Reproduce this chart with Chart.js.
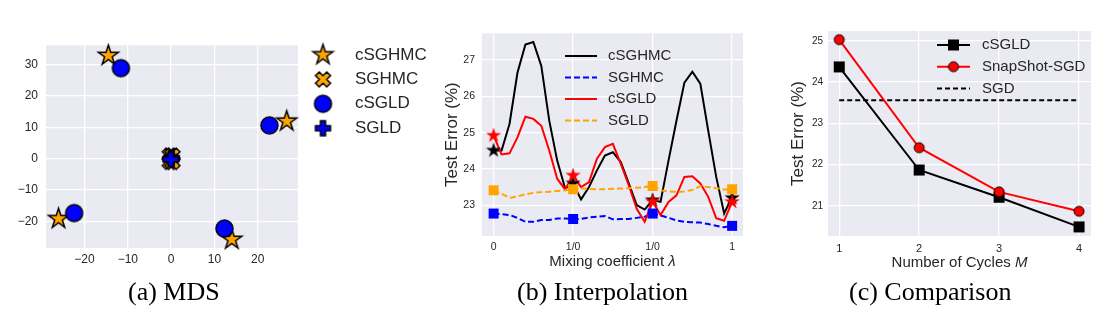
<!DOCTYPE html>
<html>
<head>
<meta charset="utf-8">
<script src="https://cdn.jsdelivr.net/npm/chart.js@4.4.1/dist/chart.umd.min.js"></script>
<style>
  body { margin: 0; background: #fff; width: 1111px; height: 333px; position: relative; overflow: hidden; }
  canvas { position: absolute; }
  .cap { position: absolute; font-family: 'Liberation Serif', 'Times New Roman', serif; font-size: 26px; line-height: 26px; color: #000; white-space: nowrap; }
</style>
</head>
<body>
<canvas id="mds" width="440" height="260" style="left:0;top:30px"></canvas>
<canvas id="interp" width="340" height="270" style="left:440px;top:20px"></canvas>
<canvas id="cycles" width="331" height="270" style="left:780px;top:20px"></canvas>
<div class="cap" style="left:128px;top:279px">(a) MDS</div>
<div class="cap" style="left:517px;top:279px">(b) Interpolation</div>
<div class="cap" style="left:849px;top:279px">(c) Comparison</div>

<script>
// (a) MDS embedding of the samples
const mdsCSGHMC = [[-14.5, 32.8], [26.7, 11.9], [-26.0, -19.1], [14.0, -25.7]];
const mdsSGHMC = [[-0.3, 1.0], [0.3, 1.0], [-0.3, -1.0], [0.3, -1.0]];
const mdsCSGLD = [[-11.6, 28.8], [22.7, 10.6], [-22.4, -17.3], [12.3, -22.2]];
const mdsSGLD = [[0, 0], [0.1, 0.2], [-0.1, -0.2]];
const mdsTicksX = [-20, -10, 0, 10, 20];
const mdsTicksY = [-20, -10, 0, 10, 20, 30];

// (b) interpolation between samples
const lambdaPos = [0, 0.1, 0.2, 0.3, 0.4, 0.5, 0.6, 0.7, 0.8, 0.9, 1, 1.1, 1.2, 1.3, 1.4, 1.5, 1.6, 1.7, 1.8, 1.9,
  2, 2.1, 2.2, 2.3, 2.4, 2.5, 2.6, 2.7, 2.8, 2.9, 3];
const interpCSGHMC = [24.51, 24.51, 25.24, 26.65, 27.43, 27.5, 26.84, 25.33, 24.23, 23.46, 23.6, 23.16, 23.5, 23.96,
  24.37, 24.46, 24.19, 23.6, 23.0, 22.88, 23.14, 23.09, 24.23, 25.33, 26.38, 26.68, 26.35, 25.05, 23.78, 22.77, 23.23];
const interpSGHMC = [22.77, 22.75, 22.73, 22.65, 22.54, 22.54, 22.59, 22.59, 22.63, 22.63, 22.62, 22.62, 22.66, 22.68,
  22.7, 22.61, 22.62, 22.62, 22.65, 22.68, 22.77, 22.72, 22.65, 22.58, 22.54, 22.53, 22.52, 22.48, 22.43, 22.39, 22.43];
const interpCSGLD = [24.92, 24.4, 24.43, 24.87, 25.44, 25.38, 25.19, 24.51, 23.73, 23.43, 23.82, 23.5, 23.64, 24.28,
  24.6, 24.69, 24.14, 23.55, 22.9, 22.54, 23.1, 22.73, 23.09, 23.27, 23.78, 23.8, 23.6, 23.23, 22.64, 22.57, 23.09];
const interpSGLD = [23.41, 23.32, 23.2, 23.24, 23.3, 23.34, 23.36, 23.37, 23.39, 23.41, 23.44, 23.46, 23.45, 23.44,
  23.44, 23.45, 23.46, 23.47, 23.48, 23.5, 23.53, 23.41, 23.38, 23.37, 23.38, 23.42, 23.52, 23.5, 23.47, 23.43, 23.44];
const samplePos = [0, 1, 2, 3];
const sampleCSGHMC = [24.51, 23.6, 23.14, 23.2];
const sampleSGHMC = [22.77, 22.62, 22.77, 22.43];
const sampleCSGLD = [24.92, 23.82, 23.1, 23.09];
const sampleSGLD = [23.41, 23.44, 23.53, 23.44];
const lambdaTicks = [0, 1, 2, 3];
const lambdaTickLabels = ['0', '1/0', '1/0', '1'];
const interpTicksY = [23, 24, 25, 26, 27];

// (c) number of cycles
const cycles = [1, 2, 3, 4];
const cyclesCSGLD = [24.37, 21.87, 21.21, 20.49];
const cyclesSnapshot = [25.03, 22.41, 21.34, 20.87];
const sgdError = 23.56;
const cyclesTicksY = [21, 22, 23, 24, 25];

const sans = "'Liberation Sans', Arial, sans-serif";
const ink = '#262626';
const plotBg = '#EAEAF2';

// marker shapes (matplotlib-like), drawn once to small canvases
const X_PATH = [[0.25, 0], [0.5, 0.25], [0.75, 0], [1, 0.25], [0.75, 0.5], [1, 0.75], [0.75, 1], [0.5, 0.75],
  [0.25, 1], [0, 0.75], [0.25, 0.5], [0, 0.25]].map(p => [p[0] - 0.5, p[1] - 0.5]);
const PLUS_PATH = [[-1, -3], [1, -3], [1, -1], [3, -1], [3, 1], [1, 1], [1, 3], [-1, 3], [-1, 1], [-3, 1], [-3, -1],
  [-1, -1]].map(p => [p[0] / 6, p[1] / 6]);

function marker(shape, size, fill, edge, lw) {
  const pad = Math.ceil(lw || 0) + 1;
  const c = document.createElement('canvas');
  c.width = c.height = Math.round(size + pad * 2);
  const g = c.getContext('2d');
  g.translate(c.width / 2, c.height / 2);
  g.beginPath();
  const r = size / 2;
  if (shape === 'star') {
    for (let i = 0; i < 10; i++) {
      const a = -Math.PI / 2 + i * Math.PI / 5;
      const rr = i % 2 ? r * 0.382 : r;
      g.lineTo(rr * Math.cos(a), rr * Math.sin(a));
    }
  } else if (shape === 'circle') {
    g.arc(0, 0, r, 0, Math.PI * 2);
  } else if (shape === 'square') {
    g.rect(-r, -r, size, size);
  } else {
    const pts = shape === 'x' ? X_PATH : PLUS_PATH;
    pts.forEach(p => g.lineTo(p[0] * size, p[1] * size));
  }
  g.closePath();
  g.fillStyle = fill;
  g.fill();
  if (lw) {
    g.lineWidth = lw;
    g.strokeStyle = edge;
    g.lineJoin = 'miter';
    g.stroke();
  }
  return c;
}

const minus = v => (v < 0 ? '\u2212' + Math.abs(v) : String(v));

function axis(min, max, ticks, size, pad, extra) {
  return Object.assign({
    type: 'linear', min, max,
    border: { display: false },
    grid: { color: '#ffffff', lineWidth: 1.3, drawTicks: false },
    ticks: { color: ink, font: { family: sans, size }, padding: pad, autoSkip: false, maxRotation: 0, callback: minus },
    afterBuildTicks: s => { s.ticks = ticks.map(v => ({ value: v })); }
  }, extra);
}

const panelBg = {
  id: 'panelBg',
  beforeDraw(chart) {
    const a = chart.chartArea, g = chart.ctx;
    g.save();
    g.fillStyle = plotBg;
    g.fillRect(a.left, a.top, a.right - a.left, a.bottom - a.top);
    g.restore();
  }
};

// legend drawn at a fixed place
function keyPlugin(o) {
  return {
    id: 'key',
    afterDraw(chart) {
      const g = chart.ctx;
      g.save();
      g.font = o.size + 'px ' + sans;
      g.fillStyle = ink;
      g.textBaseline = 'middle';
      o.items.forEach((it, i) => {
        const y = o.y + i * o.gap;
        if (it.color) {
          g.beginPath();
          g.setLineDash(it.dash || []);
          g.strokeStyle = it.color;
          g.lineWidth = it.width;
          g.moveTo(o.x0, y);
          g.lineTo(o.x1, y);
          g.stroke();
        }
        if (it.marker) {
          const m = it.marker;
          g.drawImage(m, (o.x0 + o.x1) / 2 - m.width / 2, y - m.height / 2);
        }
        g.fillText(it.label, o.tx, y);
      });
      g.restore();
    }
  };
}

// x title with an italic symbol at the end
function xTitle(parts, y, size) {
  return {
    id: 'xTitle',
    afterDraw(chart) {
      const g = chart.ctx, a = chart.chartArea;
      g.save();
      g.fillStyle = ink;
      g.textBaseline = 'middle';
      const fonts = parts.map(p => (p.italic ? 'italic ' : '') + size + 'px ' + sans);
      const widths = parts.map((p, i) => { g.font = fonts[i]; return g.measureText(p.text).width; });
      let x = (a.left + a.right) / 2 - widths.reduce((s, w) => s + w, 0) / 2;
      parts.forEach((p, i) => { g.font = fonts[i]; g.fillText(p.text, x, y); x += widths[i]; });
      g.restore();
    }
  };
}

const pts = arr => arr.map(p => ({ x: p[0], y: p[1] }));
const xy = (xs, ys) => xs.map((x, i) => ({ x, y: ys[i] }));

// ---------- (a) MDS ----------
const mStar = marker('star', 21, '#FFA500', '#000', 1.5);
const mX = marker('x', 15, '#FFA500', '#000', 1.5);
const mCircle = marker('circle', 17, '#0000FF', '#000', 1.5);
const mPlus = marker('plus', 15, '#0000FF', '#000', 1.5);

new Chart(document.getElementById('mds'), {
  type: 'scatter',
  data: {
    datasets: [
      { label: 'cSGHMC', data: pts(mdsCSGHMC), pointStyle: mStar, order: 14, clip: false },
      { label: 'SGHMC', data: pts(mdsSGHMC), pointStyle: mX, order: 13, clip: false },
      { label: 'cSGLD', data: pts(mdsCSGLD), pointStyle: mCircle, order: 12, clip: false },
      { label: 'SGLD', data: pts(mdsSGLD), pointStyle: mPlus, order: 11, clip: false }
    ]
  },
  options: {
    responsive: false,
    animation: false,
    events: [],
    layout: { padding: { top: 13, right: 142, left: 0, bottom: 0 } },
    plugins: { legend: { display: false }, tooltip: { enabled: false } },
    scales: {
      x: axis(-28.9, 29.3, mdsTicksX, 12, 4, { afterFit: s => { s.height = 42; } }),
      y: axis(-28.4, 36.1, mdsTicksY, 12, 8, { afterFit: s => { s.width = 46; } })
    }
  },
  plugins: [panelBg, keyPlugin({
    x0: 313, x1: 333, tx: 355, y: 25, gap: 24.4, size: 17,
    items: [
      { label: 'cSGHMC', marker: mStar },
      { label: 'SGHMC', marker: mX },
      { label: 'cSGLD', marker: mCircle },
      { label: 'SGLD', marker: mPlus }
    ]
  })]
});

// ---------- (b) Interpolation ----------
const bStarK = marker('star', 16, '#000000');
const bStarR = marker('star', 16, '#FF0000');
const bSqB = marker('square', 10, '#0000FF');
const bSqO = marker('square', 10, '#FFA500');
const lineDs = (label, ys, color, dash, order) => ({
  label, data: xy(lambdaPos, ys), borderColor: color, borderWidth: 2, borderDash: dash,
  pointRadius: 0, tension: 0, order
});
const dotDs = (label, ys, style, order) => ({
  label, data: xy(samplePos, ys), showLine: false, pointStyle: style, order, clip: false
});

new Chart(document.getElementById('interp'), {
  type: 'line',
  data: {
    datasets: [
      lineDs('cSGHMC', interpCSGHMC, '#000000', [], 14),
      lineDs('SGHMC', interpSGHMC, '#0000FF', [6, 3], 13),
      lineDs('cSGLD', interpCSGLD, '#FF0000', [], 12),
      lineDs('SGLD', interpSGLD, '#FFA500', [6, 3], 11),
      dotDs('cSGHMC samples', sampleCSGHMC, bStarK, 5),
      dotDs('SGHMC samples', sampleSGHMC, bSqB, 4),
      dotDs('SGLD samples', sampleSGLD, bSqO, 4),
      dotDs('cSGLD samples', sampleCSGLD, bStarR, 3)
    ]
  },
  options: {
    responsive: false,
    animation: false,
    events: [],
    layout: { padding: { top: 12, right: 37, left: 0, bottom: 0 } },
    plugins: { legend: { display: false }, tooltip: { enabled: false } },
    scales: {
      x: axis(-0.146, 3.137, lambdaTicks, 10.5, 5, {
        afterFit: s => { s.height = 54; },
        ticks: { color: ink, font: { family: sans, size: 10.5 }, padding: 5, autoSkip: false, maxRotation: 0,
          callback: (v, i) => lambdaTickLabels[i] }
      }),
      y: axis(22.15, 27.74, interpTicksY, 10.5, 7, {
        afterFit: s => { s.width = 42; },
        title: { display: true, text: 'Test Error (%)', color: ink, font: { family: sans, size: 17 }, padding: { top: 2, bottom: 0 } }
      })
    }
  },
  plugins: [panelBg, xTitle([{ text: 'Mixing coefficient ' }, { text: '\u03bb', italic: true }], 242, 15),
    keyPlugin({
      x0: 125, x1: 157, tx: 168, y: 36, gap: 21.5, size: 15,
      items: [
        { label: 'cSGHMC', color: '#000000', width: 2 },
        { label: 'SGHMC', color: '#0000FF', width: 2, dash: [6, 3] },
        { label: 'cSGLD', color: '#FF0000', width: 2 },
        { label: 'SGLD', color: '#FFA500', width: 2, dash: [6, 3] }
      ]
    })]
});

// ---------- (c) Comparison ----------
const cSq = marker('square', 11, '#000000');
const cDot = marker('circle', 10, '#FF0000', '#000', 1);

new Chart(document.getElementById('cycles'), {
  type: 'line',
  data: {
    datasets: [
      { label: 'cSGLD', data: xy(cycles, cyclesCSGLD), borderColor: '#000', borderWidth: 2, pointStyle: cSq, tension: 0, order: 3, clip: false },
      { label: 'SnapShot-SGD', data: xy(cycles, cyclesSnapshot), borderColor: '#FF0000', borderWidth: 2, pointStyle: cDot, tension: 0, order: 2, clip: false },
      { label: 'SGD', data: xy([cycles[0], cycles[cycles.length - 1]], [sgdError, sgdError]), borderColor: '#000', borderWidth: 2, borderDash: [5, 3], pointRadius: 0, order: 4 }
    ]
  },
  options: {
    responsive: false,
    animation: false,
    events: [],
    layout: { padding: { top: 10, right: 20, left: 0, bottom: 0 } },
    plugins: { legend: { display: false }, tooltip: { enabled: false } },
    scales: {
      x: axis(0.86, 4.15, cycles, 11, 6, { afterFit: s => { s.height = 54; } }),
      y: axis(20.27, 25.24, cyclesTicksY, 10, 5, {
        afterFit: s => { s.width = 48; },
        title: { display: true, text: 'Test Error (%)', color: ink, font: { family: sans, size: 17 }, padding: { top: 8, bottom: 0 } }
      })
    }
  },
  plugins: [panelBg, xTitle([{ text: 'Number of Cycles ' }, { text: 'M', italic: true }], 243, 15),
    keyPlugin({
      x0: 157, x1: 190, tx: 202, y: 25, gap: 21.7, size: 15,
      items: [
        { label: 'cSGLD', color: '#000', width: 2, marker: cSq },
        { label: 'SnapShot-SGD', color: '#FF0000', width: 2, marker: cDot },
        { label: 'SGD', color: '#000', width: 2, dash: [5, 3] }
      ]
    })]
});
</script>
</body>
</html>
